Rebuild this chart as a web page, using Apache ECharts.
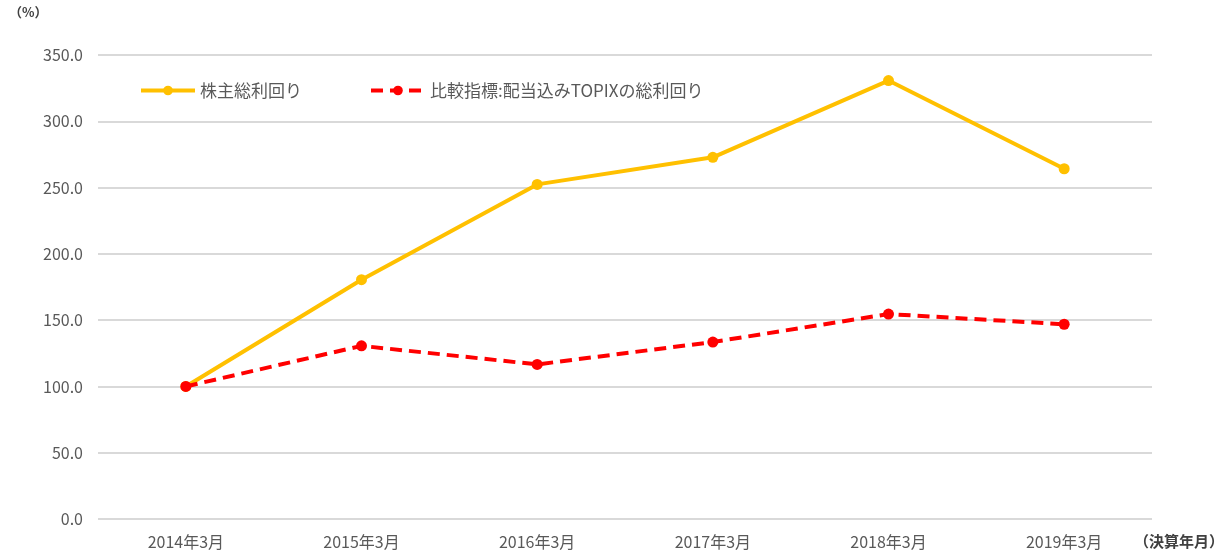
<!DOCTYPE html>
<html>
<head>
<meta charset="utf-8">
<script src="https://cdn.jsdelivr.net/npm/echarts@6/dist/echarts.min.js"></script>
<style>
  html, body { margin: 0; padding: 0; background: #fff; }
  #chart { width: 1228px; height: 555px; }
</style>
</head>
<body>
<div id="chart"></div>
<script>
// data
const categories = ["2014年3月", "2015年3月", "2016年3月", "2017年3月", "2018年3月", "2019年3月"];
const tsrName = "株主総利回り";
const tsrValues = [100.0, 180.5, 252.4, 272.8, 330.7, 264.2];
const topixName = "比較指標:配当込みTOPIXの総利回り";
const topixValues = [100.0, 130.6, 116.6, 133.5, 154.6, 146.9];

const font = "'Noto Sans CJK JP', 'Noto Sans', sans-serif";
const chart = echarts.init(document.getElementById("chart"));

chart.setOption({
  backgroundColor: "#fff",
  textStyle: { fontFamily: font },
  grid: { left: 98, right: 76, top: 55, bottom: 36 },
  graphic: [
    {
      type: "text", left: 9, top: 6,
      style: { text: "（%）", font: "bold 13px " + font, fill: "#404040" }
    },
    {
      type: "text", right: 4, top: 534,
      style: { text: "（決算年月）", font: "bold 15px " + font, fill: "#404040" }
    }
  ],
  legend: {
    left: 134, top: 77,
    itemWidth: 54, itemHeight: 12, itemGap: 67,
    lineStyle: { width: 4 },
    textStyle: { fontSize: 17, color: "#595959", fontFamily: font },
    data: [tsrName, topixName]
  },
  xAxis: {
    type: "category",
    data: categories,
    boundaryGap: true,
    axisLine: { show: false },
    axisTick: { show: false },
    axisLabel: { color: "#595959", fontSize: 16, margin: 15 }
  },
  yAxis: {
    type: "value",
    min: 0, max: 350, interval: 50,
    axisLine: { show: false },
    axisTick: { show: false },
    axisLabel: {
      color: "#595959", fontSize: 16, margin: 15,
      formatter: v => v.toFixed(1)
    },
    splitLine: { lineStyle: { color: "#d9d9d9", width: 2 } }
  },
  series: [
    {
      name: tsrName,
      type: "line",
      data: tsrValues,
      color: "#FFC000",
      symbol: "circle",
      symbolSize: 11,
      lineStyle: { color: "#FFC000", width: 4 },
      itemStyle: { color: "#FFC000" },
      z: 2
    },
    {
      name: topixName,
      type: "line",
      data: topixValues,
      color: "#FF0000",
      symbol: "circle",
      symbolSize: 11,
      lineStyle: { color: "#FF0000", width: 4, type: [12, 7] },
      itemStyle: { color: "#FF0000" },
      z: 3
    }
  ]
});
</script>
</body>
</html>
